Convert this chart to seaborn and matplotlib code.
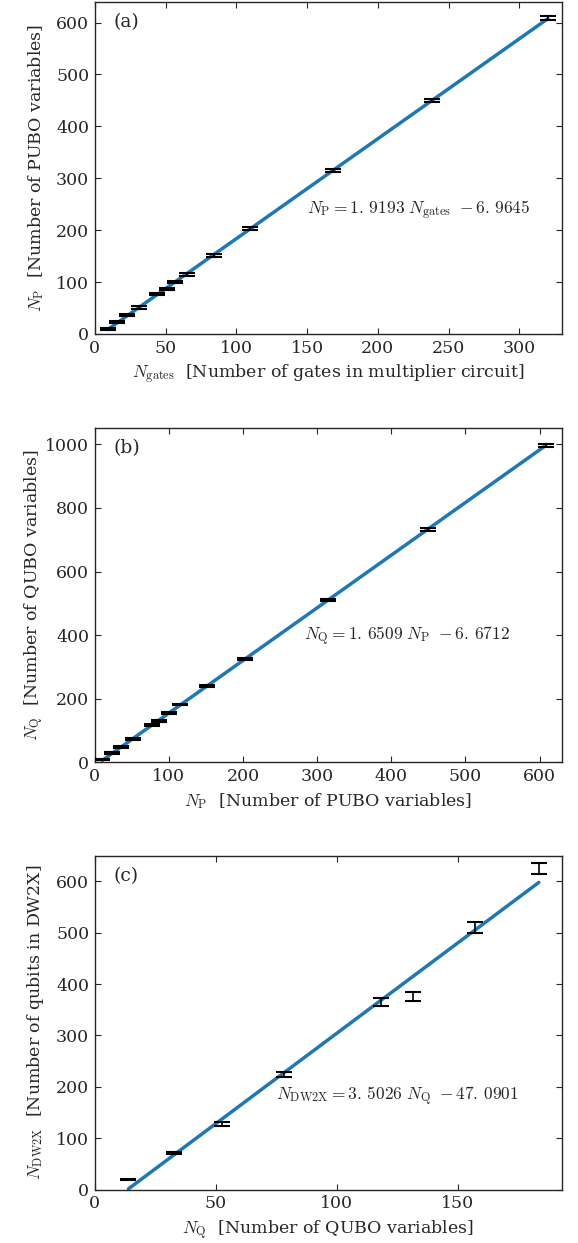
import numpy as np
import pandas as pd
import matplotlib
matplotlib.use("Agg")
import matplotlib.pyplot as plt
import seaborn as sns

# values
n_gates = [9, 16, 23, 31, 44, 51, 57, 65, 84, 110, 168, 238, 320]
n_pubo = [10, 23, 36, 51, 77, 87, 100, 115, 151, 203, 315, 449, 608]
err_pubo = [2, 2, 2, 2, 2.5, 2.5, 2.5, 2.5, 2.5, 2.5, 3, 3, 4]

n_qubo = [9, 29, 49, 75, 117, 129, 155, 182, 239, 325, 510, 732, 997]
err_qubo = [2, 3, 3, 3, 3, 3, 3, 3, 3, 4, 4, 5, 5]

n_qubo_c = [13.9, 32.6, 52.7, 78.3, 118.2, 131.5, 157, 183.5]
n_dw2x = [20, 71, 128, 224, 365, 376, 511, 625]
err_dw2x = [0.5, 2, 4, 4, 8, 8, 10.7, 10.5]

fit_texts = [r"$N_{\rm P} = 1.\,9193\ N_{\rm gates}\ -6.\,9645$",
             r"$N_{\rm Q} = 1.\,6509\ N_{\rm P}\ -6.\,6712$",
             r"$N_{\rm DW2X} = 3.\,5026\ N_{\rm Q}\ -47.\,0901$"]

sns.set_style("ticks")
plt.rcParams["font.family"] = ["DejaVu Serif"]
plt.rcParams["mathtext.fontset"] = "cm"
plt.rcParams["font.size"] = 12.5

fig = plt.figure(figsize=(5.78, 12.43), dpi=100)

left, width = 0.164, 0.808
rects = [[left, 0.7313, width, 0.2673],
         [left, 0.3866, width, 0.2688],
         [left, 0.0430, width, 0.2686]]

panels = [
    dict(x=n_gates, y=n_pubo, e=err_pubo, xlim=(0, 330), ylim=(0, 640),
         xticks=np.arange(0, 301, 50), yticks=np.arange(0, 601, 100),
         xlabel=r"$N_{\rm gates}$  [Number of gates in multiplier circuit]",
         ylabel=r"$N_{\rm P}$  [Number of PUBO variables]",
         tag="(a)", tpos=(0.454, 0.373)),
    dict(x=n_pubo, y=n_qubo, e=err_qubo, xlim=(0, 630), ylim=(0, 1050),
         xticks=np.arange(0, 601, 100), yticks=np.arange(0, 1001, 200),
         xlabel=r"$N_{\rm P}$  [Number of PUBO variables]",
         ylabel=r"$N_{\rm Q}$  [Number of QUBO variables]",
         tag="(b)", tpos=(0.448, 0.377)),
    dict(x=n_qubo_c, y=n_dw2x, e=err_dw2x, xlim=(0, 193), ylim=(0, 650),
         xticks=np.arange(0, 151, 50), yticks=np.arange(0, 601, 100),
         xlabel=r"$N_{\rm Q}$  [Number of QUBO variables]",
         ylabel=r"$N_{\rm DW2X}$  [Number of qubits in DW2X]",
         tag="(c)", tpos=(0.388, 0.28)),
]

for rect, p, txt in zip(rects, panels, fit_texts):
    ax = fig.add_axes(rect)
    df = pd.DataFrame({"x": p["x"], "y": p["y"]})
    # linear fit line
    sns.regplot(data=df, x="x", y="y", ax=ax, scatter=False, ci=None,
                truncate=True, color="#1f77b4", line_kws={"lw": 2.5})
    ax.errorbar(p["x"], p["y"], yerr=p["e"], fmt="none", ecolor="black",
                elinewidth=1.2, capsize=6, capthick=1.5, zorder=3)
    ax.set_xlim(p["xlim"])
    ax.set_ylim(p["ylim"])
    ax.set_xticks(p["xticks"])
    ax.set_yticks(p["yticks"])
    ax.set_xlabel(p["xlabel"], fontsize=12.5, labelpad=4)
    ax.set_ylabel(p["ylabel"], fontsize=12.5)
    ax.yaxis.set_label_coords(-0.105, 0.5)
    ax.tick_params(direction="in", top=True, right=True, length=4.5,
                   width=0.8, labelsize=12.5, pad=4)
    for s in ax.spines.values():
        s.set_linewidth(1.0)
    ax.text(0.039, 0.94, p["tag"], transform=ax.transAxes, fontsize=13.5,
            va="center", ha="left")
    ax.text(p["tpos"][0], p["tpos"][1], txt, transform=ax.transAxes,
            fontsize=12.5, va="center", ha="left")

fig.savefig("out.png", dpi=100)
